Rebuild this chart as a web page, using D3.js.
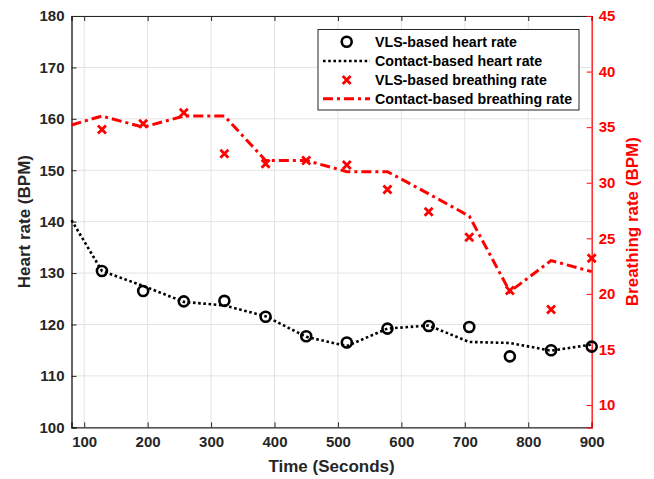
<!DOCTYPE html>
<html><head><meta charset="utf-8">
<script src="https://cdn.jsdelivr.net/npm/d3@7"></script>
<style>body{margin:0;background:#fff}svg{display:block}text{font-family:"Liberation Sans",Arial,sans-serif;font-weight:bold}</style>
</head><body><svg id="c" width="654" height="479"></svg>
<script>
const xTicks = [100,200,300,400,500,600,700,800,900];
const hrTicks = [100,110,120,130,140,150,160,170,180];
const brTicks = [10,15,20,25,30,35,40,45];
const vlsTime = [128,193,257,321,386,450,514,578,643,707,771,836,900];
const vlsHeart = [130.4,126.5,124.5,124.6,121.5,117.7,116.5,119.2,119.7,119.5,113.8,115.0,115.7];
const vlsBreath = [34.8,35.3,36.3,32.6,31.7,32.0,31.6,29.4,27.4,25.1,20.3,18.6,23.2];
const contactTime = [80,128,193,257,321,386,450,514,578,643,707,771,836,900];
const contactHeart = [140.3,130.4,127.5,124.4,123.7,121.6,117.6,115.8,119.2,119.8,116.6,116.4,114.9,116.1];
const contactBreath = [35.2,36.0,35.0,36.0,36.0,32.0,32.0,31.0,31.0,29.0,27.0,20.2,23.0,22.0];
const legendLabels = ["VLS-based heart rate","Contact-based heart rate","VLS-based breathing rate","Contact-based breathing rate"];

const svg = d3.select("#c");
const L=71.5, R=591.7, T=16, B=427.3;
const x = d3.scaleLinear().domain([80,900]).range([L,R]);
const yL = d3.scaleLinear().domain([100,180]).range([B,T]);
const yR = d3.scaleLinear().domain([8,45]).range([B,T]);
const dark="#262626", red="#ff0000";

// grid
const g = svg.append("g");
g.selectAll(".vg").data(xTicks).enter().append("line")
  .attr("x1",d=>x(d)).attr("x2",d=>x(d)).attr("y1",T).attr("y2",B)
  .attr("stroke","#e3e3e3").attr("stroke-width",1);
g.selectAll(".hg").data(hrTicks).enter().append("line")
  .attr("x1",L).attr("x2",R).attr("y1",d=>yL(d)).attr("y2",d=>yL(d))
  .attr("stroke","#e3e3e3").attr("stroke-width",1);

// axes
const ax = svg.append("g").attr("transform",`translate(0,${B})`)
  .call(d3.axisBottom(x).tickValues(xTicks).tickSize(-5).tickPadding(9).tickFormat(d3.format("d")));
const axTop = svg.append("g").attr("transform",`translate(0,${T})`)
  .call(d3.axisTop(x).tickValues(xTicks).tickSize(-5).tickFormat(""));
const ayL = svg.append("g").attr("transform",`translate(${L},0)`)
  .call(d3.axisLeft(yL).tickValues(hrTicks).tickSize(-5).tickPadding(7).tickFormat(d3.format("d")));
const ayR = svg.append("g").attr("transform",`translate(${R},0)`)
  .call(d3.axisRight(yR).tickValues(brTicks).tickSize(-5).tickPadding(7).tickFormat(d3.format("d")));
[ax,axTop,ayL].forEach(a=>{
  a.select(".domain").attr("stroke",dark).attr("stroke-width",1.2);
  a.selectAll(".tick line").attr("stroke",dark).attr("stroke-width",1);
  a.selectAll(".tick text").attr("fill",dark).style("font-size","15px").style("font-weight","bold");
});
ayL.select(".domain").attr("stroke","#000");
ayR.select(".domain").attr("stroke",red).attr("stroke-width",1.2);
ayR.selectAll(".tick line").attr("stroke",red);
ayR.selectAll(".tick text").attr("fill",red).style("font-size","15px").style("font-weight","bold");

// titles
svg.append("text").attr("x",(L+R)/2).attr("y",472).attr("text-anchor","middle")
  .attr("fill",dark).style("font-size","17px").text("Time (Seconds)");
svg.append("text").attr("transform",`translate(30,${(T+B)/2}) rotate(-90)`).attr("text-anchor","middle")
  .attr("fill",dark).style("font-size","17px").text("Heart rate (BPM)");
svg.append("text").attr("transform",`translate(638,${(T+B)/2}) rotate(-90)`).attr("text-anchor","middle")
  .attr("fill",red).style("font-size","17px").text("Breathing rate (BPM)");

// data
const plot = svg.append("g");
const lineHR = d3.line().x((d,i)=>x(contactTime[i])).y(d=>yL(d));
const lineBR = d3.line().x((d,i)=>x(contactTime[i])).y(d=>yR(d));
plot.append("path").datum(contactBreath).attr("d",lineBR).attr("fill","none")
  .attr("stroke",red).attr("stroke-width",3).attr("stroke-dasharray","10,4,3,4");
plot.append("path").datum(contactHeart).attr("d",lineHR).attr("fill","none")
  .attr("stroke","#000").attr("stroke-width",2.6).attr("stroke-dasharray","2.6,2.6");
plot.selectAll(".c").data(vlsHeart).enter().append("circle")
  .attr("cx",(d,i)=>x(vlsTime[i])).attr("cy",d=>yL(d)).attr("r",5)
  .attr("fill","none").attr("stroke","#000").attr("stroke-width",2.6);
const cross = (sel,cx,cy)=>{
  const s=4;
  sel.append("path").attr("d",`M${cx-s},${cy-s}L${cx+s},${cy+s}M${cx-s},${cy+s}L${cx+s},${cy-s}`)
    .attr("stroke",red).attr("stroke-width",2.8).attr("fill","none");
};
vlsBreath.forEach((d,i)=>cross(plot,x(vlsTime[i]),yR(d)));

// legend
const lg = svg.append("g");
lg.append("rect").attr("x",318).attr("y",29.5).attr("width",261).attr("height",80.5)
  .attr("fill","#fff").attr("stroke","#262626").attr("stroke-width",1);
const rows=[41.7,61,80,98.7];
lg.append("circle").attr("cx",346.7).attr("cy",rows[0]).attr("r",5).attr("fill","none").attr("stroke","#000").attr("stroke-width",2.6);
lg.append("line").attr("x1",323).attr("x2",370).attr("y1",rows[1]).attr("y2",rows[1]).attr("stroke","#000").attr("stroke-width",2.6).attr("stroke-dasharray","2.6,2.6");
cross(lg,346.7,rows[2]);
lg.append("line").attr("x1",323).attr("x2",370).attr("y1",rows[3]).attr("y2",rows[3]).attr("stroke",red).attr("stroke-width",3).attr("stroke-dasharray","10,4,3,4");
lg.selectAll(".lt").data(legendLabels).enter().append("text")
  .attr("x",375).attr("y",(d,i)=>rows[i]+5).attr("fill","#000").style("font-size","14.2px").text(d=>d);
</script></body></html>
